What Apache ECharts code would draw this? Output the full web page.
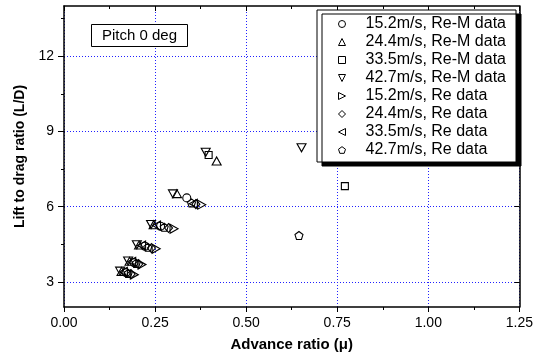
<!DOCTYPE html>
<html>
<head>
<meta charset="utf-8">
<script src="https://cdn.jsdelivr.net/npm/echarts@6/dist/echarts.min.js"></script>
<style>
html,body{margin:0;padding:0;background:#fff;}
#chart{width:536px;height:357px;}
</style>
</head>
<body>
<div id="chart"></div>
<script>
// ---- data ----
const seriesNames = [
  '15.2m/s, Re-M data', '24.4m/s, Re-M data', '33.5m/s, Re-M data', '42.7m/s, Re-M data',
  '15.2m/s, Re data', '24.4m/s, Re data', '33.5m/s, Re data', '42.7m/s, Re data'
];
const reM152 = [[0.170,3.37],[0.192,3.77],[0.222,4.42],[0.265,5.22],[0.337,6.35]];
const reM244 = [[0.158,3.42],[0.180,3.82],[0.206,4.47],[0.246,5.28],[0.310,6.52],[0.419,7.82]];
const reM335 = [[0.397,8.06],[0.771,6.82]];
const reM427 = [[0.154,3.43],[0.176,3.83],[0.200,4.48],[0.239,5.29],[0.299,6.51],[0.389,8.17],[0.652,8.35]];
const re152 = [[0.193,3.29],[0.214,3.69],[0.253,4.32],[0.302,5.12],[0.378,6.08]];
const re244 = [[0.184,3.31],[0.205,3.71],[0.240,4.35],[0.287,5.15],[0.362,6.10]];
const re335 = [[0.163,3.40],[0.186,3.80],[0.213,4.45],[0.254,5.25],[0.355,6.12]];
const re427 = [[0.176,3.34],[0.198,3.74],[0.230,4.38],[0.275,5.18],[0.350,6.15],[0.645,4.85]];
const xMin = 0, xMax = 1.25, xStep = 0.25;
const yMin = 2, yMax = 14;
const yMajorTicks = [3, 6, 9, 12];
const yMinorTicks = [4.5, 7.5, 10.5, 13.5];
const annotation = 'Pitch 0 deg';
const xTitle = 'Advance ratio (\u03bc)';
const yTitle = 'Lift to drag ratio (L/D)';

// ---- chart ----
const SYM = {
  circle: 'circle',
  up: 'path://M0,-1 L1,1 L-1,1 Z',
  square: 'rect',
  down: 'path://M-1,-1 L1,-1 L0,1 Z',
  right: 'path://M-1,-1 L1,0 L-1,1 Z',
  diamond: 'path://M0,-1 L1,0 L0,1 L-1,0 Z',
  left: 'path://M1,-1 L-1,0 L1,1 Z',
  pentagon: 'path://M0,-1 L0.951,-0.309 L0.588,0.809 L-0.588,0.809 L-0.951,-0.309 Z'
};
const markers = [
  {symbol:SYM.circle, size:[8,8]},
  {symbol:SYM.up, size:[9,8]},
  {symbol:SYM.square, size:[7,7]},
  {symbol:SYM.down, size:[9,8]},
  {symbol:SYM.right, size:[8,9]},
  {symbol:SYM.diamond, size:[8,9]},
  {symbol:SYM.left, size:[8,9]},
  {symbol:SYM.pentagon, size:[8,8]}
];
const legendIcons = [SYM.circle, SYM.up, SYM.square, SYM.down, SYM.right, SYM.diamond, SYM.left, SYM.pentagon];
const datasets = [reM152, reM244, reM335, reM427, re152, re244, re335, re427];
const font = 'Liberation Sans, Arial, sans-serif';

const chart = echarts.init(document.getElementById('chart'), null, {renderer:'canvas'});
const axisLine = {show:true, onZero:false, lineStyle:{color:'#000', width:1.5}};
const gridLine = {show:true, lineStyle:{color:'#2020ff', width:1, type:[1,2]}};

const option = {
  animation:false,
  backgroundColor:'#fff',
  grid: {left:64, right:14, top:6, bottom:49},
  title: {
    text: annotation, left:91, top:24,
    borderColor:'#000', borderWidth:1, padding:[3,11,3,11],
    backgroundColor:'#fff',
    textStyle:{fontFamily:font, fontSize:15, fontWeight:'normal', color:'#000', lineHeight:17}
  },
  legend: {
    orient:'vertical', left:317, top:10,
    padding:[5,10,3,21], itemGap:0, itemWidth:7, itemHeight:7,
    backgroundColor:'#fff', borderColor:'#000', borderWidth:1,
    shadowColor:'#000', shadowBlur:0, shadowOffsetX:5, shadowOffsetY:4,
    itemStyle:{color:'#fff', borderColor:'#000', borderWidth:1},
    textStyle:{fontFamily:font, fontSize:16, color:'#000', lineHeight:18, padding:[0,0,0,15]},
    data: seriesNames.map((n, i) => ({name:n, icon:legendIcons[i]}))
  },
  xAxis: [
    {type:'value', min:xMin, max:xMax, interval:xStep, position:'bottom',
     axisLine:axisLine,
     axisTick:{show:true, inside:false, length:5, lineStyle:{color:'#000', width:1}},
     minorTick:{show:true, splitNumber:2, length:3, lineStyle:{color:'#000', width:1}},
     axisLabel:{show:true, margin:9, fontFamily:font, fontSize:14, color:'#000',
       formatter:v=>v.toFixed(2)},
     splitLine:gridLine,
     name:xTitle, nameLocation:'middle', nameGap:30,
     nameTextStyle:{fontFamily:font, fontSize:15, fontWeight:'bold', color:'#000'}},
    {type:'value', min:xMin, max:xMax, interval:xStep, position:'top',
     axisLine:axisLine,
     axisTick:{show:true, inside:true, length:5, lineStyle:{color:'#000', width:1}},
     minorTick:{show:true, splitNumber:2, length:3, lineStyle:{color:'#000', width:1}},
     axisLabel:{show:false}, splitLine:{show:false}}
  ],
  yAxis: [
    {type:'value', min:yMin, max:yMax, position:'left',
     axisLine:axisLine,
     axisTick:{show:true, inside:false, length:6, customValues:yMajorTicks, lineStyle:{color:'#000', width:1}},
     axisLabel:{show:true, margin:10, customValues:yMajorTicks, fontFamily:font, fontSize:14, color:'#000'},
     splitLine:gridLine,
     name:yTitle, nameLocation:'middle', nameGap:34,
     nameTextStyle:{fontFamily:font, fontSize:14, fontWeight:'bold', color:'#000'}},
    {type:'value', min:yMin, max:yMax, position:'left',
     axisLine:{show:false},
     axisTick:{show:true, inside:false, length:3, customValues:yMinorTicks, lineStyle:{color:'#000', width:1}},
     axisLabel:{show:false}, splitLine:{show:false}},
    {type:'value', min:yMin, max:yMax, position:'right',
     axisLine:axisLine,
     axisTick:{show:true, inside:true, length:5, customValues:yMajorTicks, lineStyle:{color:'#000', width:1}},
     axisLabel:{show:false}, splitLine:{show:false}},
    {type:'value', min:yMin, max:yMax, position:'right',
     axisLine:{show:false},
     axisTick:{show:true, inside:true, length:3, customValues:yMinorTicks, lineStyle:{color:'#000', width:1}},
     axisLabel:{show:false}, splitLine:{show:false}}
  ],
  series: datasets.map((d, i) => ({
    type:'scatter', name:seriesNames[i], data:d,
    xAxisIndex:0, yAxisIndex:0,
    symbol:markers[i].symbol, symbolSize:markers[i].size,
    itemStyle:{color:'rgba(255,255,255,0)', borderColor:'#000', borderWidth:1.1, opacity:1},
    emphasis:{disabled:true},
    z:3
  }))
};
chart.setOption(option);
</script>
</body>
</html>
